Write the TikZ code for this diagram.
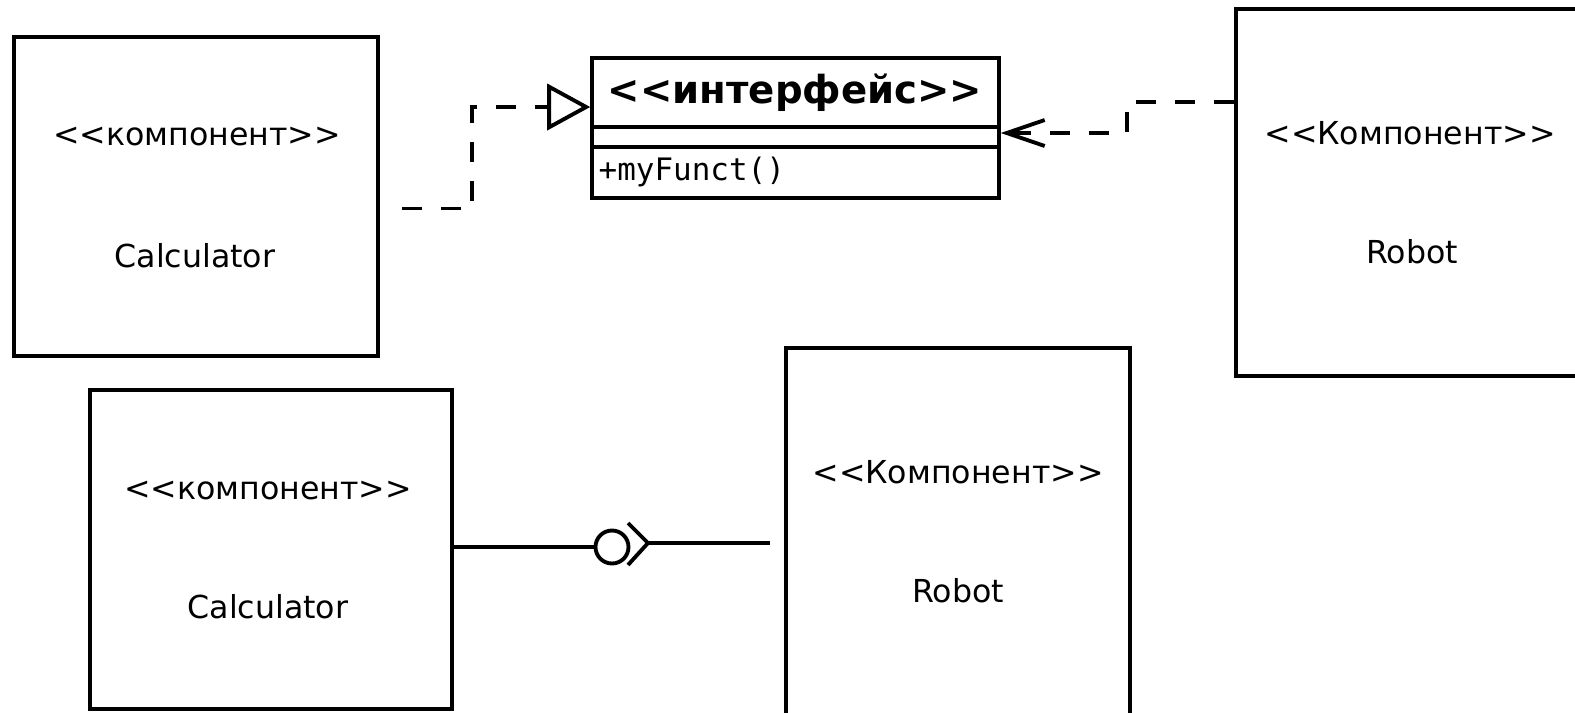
\documentclass[tikz,border=0pt]{standalone}
\usepackage{fontspec}
\setmainfont{DejaVu Sans}
\newfontfamily\codefont{DejaVu Sans Mono}
\usetikzlibrary{arrows.meta}
\begin{document}
\begin{tikzpicture}[x=1cm, y=-1cm,
  comp/.style={draw, line width=1.3pt, inner sep=0pt},
  tag/.style={font=\fontsize{9}{11}\selectfont},
  dep/.style={line width=1.1pt, dash pattern=on 0.2cm off 0.19cm},
  wire/.style={line width=1.1pt}
]
\clip (0,0) rectangle (15.75,7.12);
\node[comp, minimum width=3.64cm, minimum height=3.19cm] (calcA) at (1.96,1.965) {};
\node[tag] (calcAtype) at (1.97,1.37) {<{}<компонент>{}>};
\node[tag] (calcAname) at (1.95,2.56) {Calculator};
\node[comp, minimum width=3.54cm, minimum height=3.67cm] (robotB) at (14.13,1.925) {};
\node[tag] (robotBtype) at (14.10,1.33) {<{}<Компонент>{}>};
\node[tag] (robotBname) at (14.12,2.52) {Robot};
\node[comp, minimum width=3.62cm, minimum height=3.19cm] (calcC) at (2.71,5.495) {};
\node[tag] (calcCtype) at (2.68,4.91) {<{}<компонент>{}>};
\node[tag] (calcCname) at (2.68,6.07) {Calculator};
\node[comp, minimum width=3.44cm, minimum height=3.74cm] (robotD) at (9.58,5.35) {};
\node[tag] (robotDtype) at (9.58,4.72) {<{}<Компонент>{}>};
\node[tag] (robotDname) at (9.58,5.91) {Robot};
\node[draw, line width=1pt, minimum width=4.07cm, minimum height=1.40cm] (iface) at (7.955,1.28) {};
\draw[line width=1pt] ([yshift=0.01cm]iface.west) -- ([yshift=0.01cm]iface.east);
\draw[line width=1pt] ([yshift=-0.19cm]iface.west) -- ([yshift=-0.19cm]iface.east);
\node[font=\bfseries\fontsize{11}{13}\selectfont] (ifacehead) at (7.95,0.93) {<{}<интерфейс>{}>};
\node[font=\codefont\fontsize{8.8}{10}\selectfont, anchor=west, inner sep=0pt] (ifaceop) at (5.98,1.72) {+myFunct()};
\draw[dep, shorten <=0.22cm, -{Triangle[open, length=0.43cm, width=0.46cm]}] ([yshift=-0.12cm]calcA.east) -- ++(0.92,0) |- ([yshift=0.21cm]iface.west);
\draw[dep, -{Straight Barb[length=0.38cm, width=0.26cm]}] ([yshift=0.905cm]robotB.west) -- ++(-1.07,0) |- ([yshift=-0.05cm]iface.east);
\node[draw, circle, wire, minimum size=0.33cm, inner sep=0pt] (ball) at (6.12,5.47) {};
\coordinate (sock) at (6.48,5.43);
\draw[wire] (calcC.east |- ball) -- (ball.west);
\draw[wire] (6.28,5.23) -- (sock) -- (6.28,5.65);
\draw[wire, shorten >=0.14cm] (sock) -- (sock -| robotD.west);
\end{tikzpicture}
\end{document}
